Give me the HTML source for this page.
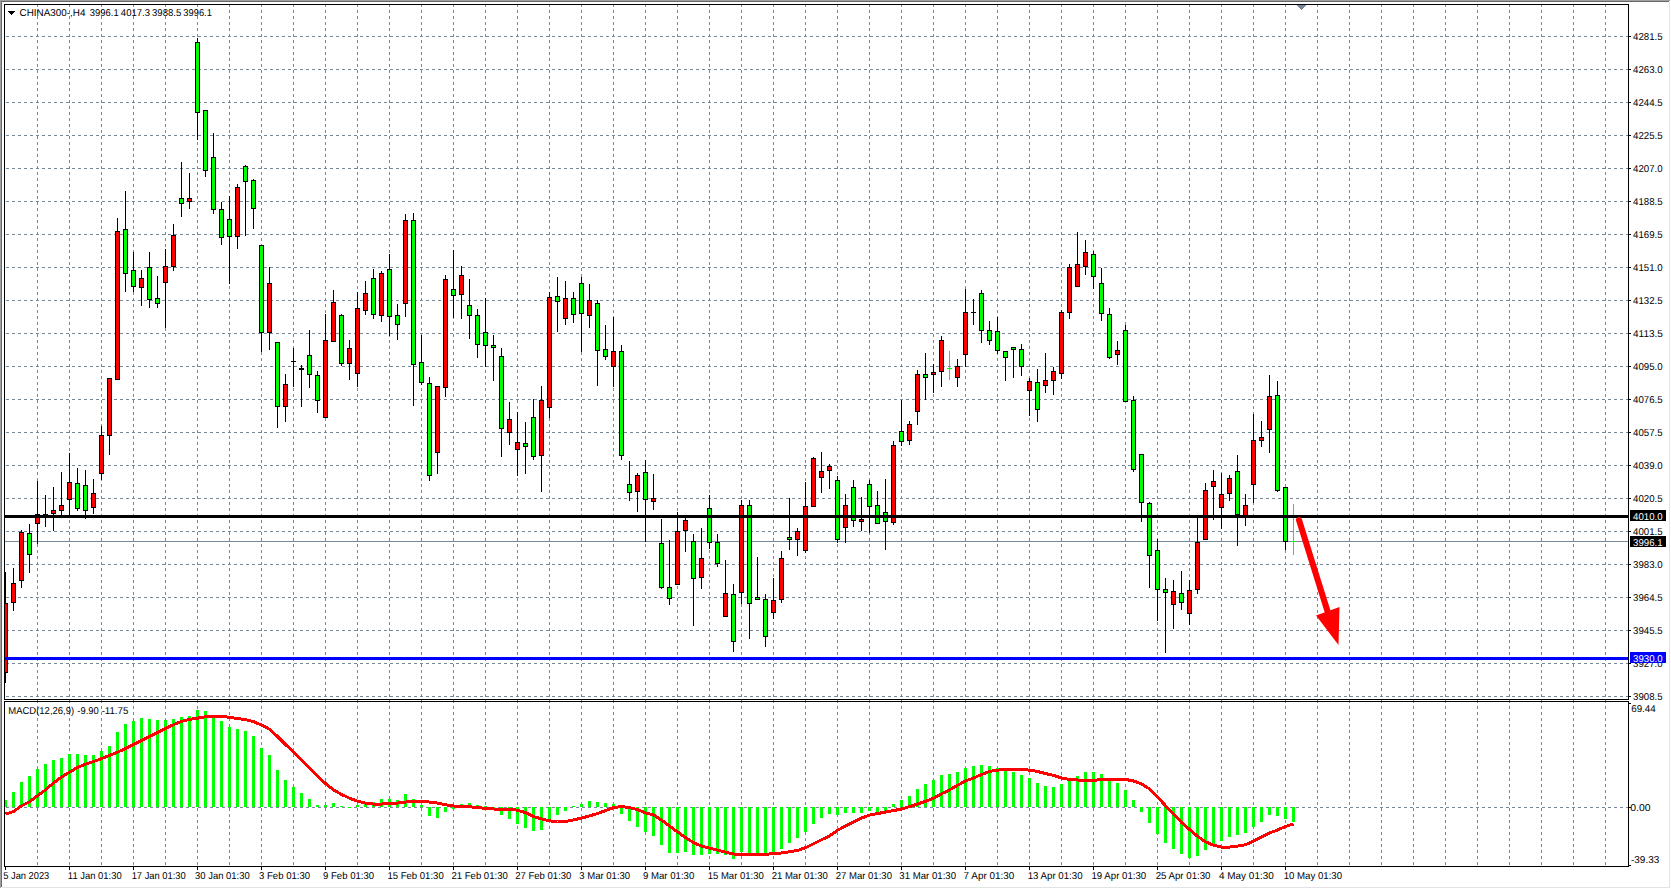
<!DOCTYPE html>
<html><head><meta charset="utf-8"><style>
html,body{margin:0;padding:0;background:#fff;width:1671px;height:889px;overflow:hidden}
svg{display:block}
text{white-space:pre;text-rendering:geometricPrecision}
</style></head><body>
<svg width="1671" height="889" viewBox="0 0 1671 889" shape-rendering="crispEdges">
<rect x="0" y="0" width="1671" height="889" fill="#fff"/>
<rect x="0" y="0" width="1670" height="1" fill="#a0a0a0"/>
<rect x="0" y="0" width="1" height="888" fill="#a0a0a0"/>
<rect x="1" y="1" width="1668" height="1" fill="#696969"/>
<rect x="1" y="1" width="1" height="886" fill="#696969"/>
<rect x="1669" y="2" width="1" height="886" fill="#e3e3e3"/>
<rect x="2" y="887" width="1668" height="1" fill="#e3e3e3"/>
<path d="M37.5 4V866 M69.5 4V866 M101.5 4V866 M133.5 4V866 M165.5 4V866 M197.5 4V866 M229.5 4V866 M261.5 4V866 M293.5 4V866 M325.5 4V866 M357.5 4V866 M389.5 4V866 M421.5 4V866 M453.5 4V866 M485.5 4V866 M517.5 4V866 M549.5 4V866 M581.5 4V866 M613.5 4V866 M645.5 4V866 M677.5 4V866 M709.5 4V866 M741.5 4V866 M773.5 4V866 M805.5 4V866 M837.5 4V866 M869.5 4V866 M901.5 4V866 M933.5 4V866 M965.5 4V866 M997.5 4V866 M1029.5 4V866 M1061.5 4V866 M1093.5 4V866 M1125.5 4V866 M1157.5 4V866 M1189.5 4V866 M1221.5 4V866 M1253.5 4V866 M1285.5 4V866 M1317.5 4V866 M1349.5 4V866 M1381.5 4V866 M1413.5 4V866 M1445.5 4V866 M1477.5 4V866 M1509.5 4V866 M1541.5 4V866 M1573.5 4V866 M1605.5 4V866 M6 36.5H1628 M6 69.5H1628 M6 102.5H1628 M6 135.5H1628 M6 168.5H1628 M6 201.5H1628 M6 234.5H1628 M6 267.5H1628 M6 300.5H1628 M6 333.5H1628 M6 366.5H1628 M6 399.5H1628 M6 432.5H1628 M6 465.5H1628 M6 498.5H1628 M6 531.5H1628 M6 564.5H1628 M6 597.5H1628 M6 630.5H1628 M6 663.5H1628 M6 696.5H1628 M6 807.5H1628" stroke="#778899" stroke-width="1" stroke-dasharray="3 3" fill="none"/>
<rect x="5" y="541" width="1623" height="1" fill="#778899"/>
<rect x="5" y="572" width="1" height="111" fill="#000000"/>
<rect x="3" y="603" width="5" height="70" fill="#000000"/>
<rect x="4" y="604" width="3" height="68" fill="#ff0000"/>
<rect x="13" y="568" width="1" height="43" fill="#000000"/>
<rect x="11" y="583" width="5" height="20" fill="#000000"/>
<rect x="12" y="584" width="3" height="18" fill="#ff0000"/>
<rect x="21" y="530" width="1" height="58" fill="#000000"/>
<rect x="19" y="532" width="5" height="49" fill="#000000"/>
<rect x="20" y="533" width="3" height="47" fill="#ff0000"/>
<rect x="29" y="524" width="1" height="49" fill="#000000"/>
<rect x="27" y="533" width="5" height="22" fill="#000000"/>
<rect x="28" y="534" width="3" height="20" fill="#00ff00"/>
<rect x="37" y="481" width="1" height="63" fill="#000000"/>
<rect x="35" y="514" width="5" height="10" fill="#000000"/>
<rect x="36" y="515" width="3" height="8" fill="#ff0000"/>
<rect x="45" y="495" width="1" height="32" fill="#000000"/>
<rect x="43" y="514" width="5" height="1" fill="#000000"/>
<rect x="53" y="487" width="1" height="44" fill="#000000"/>
<rect x="51" y="510" width="5" height="4" fill="#000000"/>
<rect x="52" y="511" width="3" height="2" fill="#ff0000"/>
<rect x="61" y="472" width="1" height="44" fill="#000000"/>
<rect x="59" y="505" width="5" height="6" fill="#000000"/>
<rect x="60" y="506" width="3" height="4" fill="#ff0000"/>
<rect x="69" y="453" width="1" height="63" fill="#000000"/>
<rect x="67" y="482" width="5" height="18" fill="#000000"/>
<rect x="68" y="483" width="3" height="16" fill="#ff0000"/>
<rect x="77" y="468" width="1" height="43" fill="#000000"/>
<rect x="75" y="483" width="5" height="26" fill="#000000"/>
<rect x="76" y="484" width="3" height="24" fill="#00ff00"/>
<rect x="85" y="470" width="1" height="49" fill="#000000"/>
<rect x="83" y="485" width="5" height="26" fill="#000000"/>
<rect x="84" y="486" width="3" height="24" fill="#00ff00"/>
<rect x="93" y="479" width="1" height="35" fill="#000000"/>
<rect x="91" y="493" width="5" height="15" fill="#000000"/>
<rect x="92" y="494" width="3" height="13" fill="#ff0000"/>
<rect x="101" y="426" width="1" height="54" fill="#000000"/>
<rect x="99" y="435" width="5" height="39" fill="#000000"/>
<rect x="100" y="436" width="3" height="37" fill="#ff0000"/>
<rect x="109" y="378" width="1" height="77" fill="#000000"/>
<rect x="107" y="378" width="5" height="58" fill="#000000"/>
<rect x="108" y="379" width="3" height="56" fill="#ff0000"/>
<rect x="117" y="218" width="1" height="162" fill="#000000"/>
<rect x="115" y="231" width="5" height="149" fill="#000000"/>
<rect x="116" y="232" width="3" height="147" fill="#ff0000"/>
<rect x="125" y="191" width="1" height="101" fill="#000000"/>
<rect x="123" y="229" width="5" height="45" fill="#000000"/>
<rect x="124" y="230" width="3" height="43" fill="#00ff00"/>
<rect x="133" y="252" width="1" height="40" fill="#000000"/>
<rect x="131" y="270" width="5" height="17" fill="#000000"/>
<rect x="132" y="271" width="3" height="15" fill="#00ff00"/>
<rect x="141" y="270" width="1" height="36" fill="#000000"/>
<rect x="139" y="278" width="5" height="10" fill="#000000"/>
<rect x="140" y="279" width="3" height="8" fill="#ff0000"/>
<rect x="149" y="252" width="1" height="56" fill="#000000"/>
<rect x="147" y="267" width="5" height="33" fill="#000000"/>
<rect x="148" y="268" width="3" height="31" fill="#00ff00"/>
<rect x="157" y="276" width="1" height="32" fill="#000000"/>
<rect x="155" y="298" width="5" height="6" fill="#000000"/>
<rect x="156" y="299" width="3" height="4" fill="#00ff00"/>
<rect x="165" y="249" width="1" height="79" fill="#000000"/>
<rect x="163" y="266" width="5" height="17" fill="#000000"/>
<rect x="164" y="267" width="3" height="15" fill="#ff0000"/>
<rect x="173" y="224" width="1" height="47" fill="#000000"/>
<rect x="171" y="235" width="5" height="32" fill="#000000"/>
<rect x="172" y="236" width="3" height="30" fill="#ff0000"/>
<rect x="181" y="162" width="1" height="55" fill="#000000"/>
<rect x="179" y="198" width="5" height="6" fill="#000000"/>
<rect x="180" y="199" width="3" height="4" fill="#00ff00"/>
<rect x="189" y="173" width="1" height="36" fill="#000000"/>
<rect x="187" y="198" width="5" height="4" fill="#000000"/>
<rect x="188" y="199" width="3" height="2" fill="#ff0000"/>
<rect x="197" y="38" width="1" height="102" fill="#000000"/>
<rect x="195" y="42" width="5" height="71" fill="#000000"/>
<rect x="196" y="43" width="3" height="69" fill="#00ff00"/>
<rect x="205" y="110" width="1" height="67" fill="#000000"/>
<rect x="203" y="110" width="5" height="61" fill="#000000"/>
<rect x="204" y="111" width="3" height="59" fill="#00ff00"/>
<rect x="213" y="133" width="1" height="81" fill="#000000"/>
<rect x="211" y="157" width="5" height="53" fill="#000000"/>
<rect x="212" y="158" width="3" height="51" fill="#00ff00"/>
<rect x="221" y="202" width="1" height="43" fill="#000000"/>
<rect x="219" y="209" width="5" height="29" fill="#000000"/>
<rect x="220" y="210" width="3" height="27" fill="#00ff00"/>
<rect x="229" y="196" width="1" height="88" fill="#000000"/>
<rect x="227" y="219" width="5" height="18" fill="#000000"/>
<rect x="228" y="220" width="3" height="16" fill="#00ff00"/>
<rect x="237" y="184" width="1" height="65" fill="#000000"/>
<rect x="235" y="187" width="5" height="50" fill="#000000"/>
<rect x="236" y="188" width="3" height="48" fill="#ff0000"/>
<rect x="245" y="165" width="1" height="71" fill="#000000"/>
<rect x="243" y="166" width="5" height="16" fill="#000000"/>
<rect x="244" y="167" width="3" height="14" fill="#00ff00"/>
<rect x="253" y="179" width="1" height="50" fill="#000000"/>
<rect x="251" y="180" width="5" height="29" fill="#000000"/>
<rect x="252" y="181" width="3" height="27" fill="#00ff00"/>
<rect x="261" y="245" width="1" height="107" fill="#000000"/>
<rect x="259" y="245" width="5" height="88" fill="#000000"/>
<rect x="260" y="246" width="3" height="86" fill="#00ff00"/>
<rect x="269" y="267" width="1" height="83" fill="#000000"/>
<rect x="267" y="283" width="5" height="50" fill="#000000"/>
<rect x="268" y="284" width="3" height="48" fill="#ff0000"/>
<rect x="277" y="342" width="1" height="86" fill="#000000"/>
<rect x="275" y="342" width="5" height="65" fill="#000000"/>
<rect x="276" y="343" width="3" height="63" fill="#00ff00"/>
<rect x="285" y="374" width="1" height="48" fill="#000000"/>
<rect x="283" y="384" width="5" height="23" fill="#000000"/>
<rect x="284" y="385" width="3" height="21" fill="#ff0000"/>
<rect x="293" y="348" width="1" height="39" fill="#000000"/>
<rect x="291" y="361" width="5" height="1" fill="#000000"/>
<rect x="301" y="365" width="1" height="42" fill="#000000"/>
<rect x="299" y="368" width="5" height="2" fill="#000000"/>
<rect x="309" y="330" width="1" height="58" fill="#000000"/>
<rect x="307" y="355" width="5" height="20" fill="#000000"/>
<rect x="308" y="356" width="3" height="18" fill="#00ff00"/>
<rect x="317" y="371" width="1" height="42" fill="#000000"/>
<rect x="315" y="375" width="5" height="26" fill="#000000"/>
<rect x="316" y="376" width="3" height="24" fill="#00ff00"/>
<rect x="325" y="314" width="1" height="104" fill="#000000"/>
<rect x="323" y="340" width="5" height="78" fill="#000000"/>
<rect x="324" y="341" width="3" height="76" fill="#ff0000"/>
<rect x="333" y="290" width="1" height="52" fill="#000000"/>
<rect x="331" y="302" width="5" height="40" fill="#000000"/>
<rect x="332" y="303" width="3" height="38" fill="#ff0000"/>
<rect x="341" y="314" width="1" height="52" fill="#000000"/>
<rect x="339" y="315" width="5" height="49" fill="#000000"/>
<rect x="340" y="316" width="3" height="47" fill="#00ff00"/>
<rect x="349" y="340" width="1" height="40" fill="#000000"/>
<rect x="347" y="348" width="5" height="16" fill="#000000"/>
<rect x="348" y="349" width="3" height="14" fill="#ff0000"/>
<rect x="357" y="292" width="1" height="95" fill="#000000"/>
<rect x="355" y="308" width="5" height="66" fill="#000000"/>
<rect x="356" y="309" width="3" height="64" fill="#ff0000"/>
<rect x="365" y="281" width="1" height="34" fill="#000000"/>
<rect x="363" y="293" width="5" height="18" fill="#000000"/>
<rect x="364" y="294" width="3" height="16" fill="#ff0000"/>
<rect x="373" y="269" width="1" height="50" fill="#000000"/>
<rect x="371" y="278" width="5" height="37" fill="#000000"/>
<rect x="372" y="279" width="3" height="35" fill="#00ff00"/>
<rect x="381" y="271" width="1" height="51" fill="#000000"/>
<rect x="379" y="273" width="5" height="43" fill="#000000"/>
<rect x="380" y="274" width="3" height="41" fill="#ff0000"/>
<rect x="389" y="254" width="1" height="82" fill="#000000"/>
<rect x="387" y="269" width="5" height="48" fill="#000000"/>
<rect x="388" y="270" width="3" height="46" fill="#00ff00"/>
<rect x="397" y="304" width="1" height="36" fill="#000000"/>
<rect x="395" y="315" width="5" height="10" fill="#000000"/>
<rect x="396" y="316" width="3" height="8" fill="#00ff00"/>
<rect x="405" y="214" width="1" height="103" fill="#000000"/>
<rect x="403" y="220" width="5" height="84" fill="#000000"/>
<rect x="404" y="221" width="3" height="82" fill="#ff0000"/>
<rect x="413" y="213" width="1" height="193" fill="#000000"/>
<rect x="411" y="220" width="5" height="145" fill="#000000"/>
<rect x="412" y="221" width="3" height="143" fill="#00ff00"/>
<rect x="421" y="335" width="1" height="50" fill="#000000"/>
<rect x="419" y="362" width="5" height="21" fill="#000000"/>
<rect x="420" y="363" width="3" height="19" fill="#00ff00"/>
<rect x="429" y="377" width="1" height="104" fill="#000000"/>
<rect x="427" y="383" width="5" height="93" fill="#000000"/>
<rect x="428" y="384" width="3" height="91" fill="#00ff00"/>
<rect x="437" y="386" width="1" height="88" fill="#000000"/>
<rect x="435" y="386" width="5" height="67" fill="#000000"/>
<rect x="436" y="387" width="3" height="65" fill="#ff0000"/>
<rect x="445" y="275" width="1" height="122" fill="#000000"/>
<rect x="443" y="279" width="5" height="109" fill="#000000"/>
<rect x="444" y="280" width="3" height="107" fill="#ff0000"/>
<rect x="453" y="250" width="1" height="68" fill="#000000"/>
<rect x="451" y="289" width="5" height="7" fill="#000000"/>
<rect x="452" y="290" width="3" height="5" fill="#00ff00"/>
<rect x="461" y="266" width="1" height="53" fill="#000000"/>
<rect x="459" y="275" width="5" height="20" fill="#000000"/>
<rect x="460" y="276" width="3" height="18" fill="#ff0000"/>
<rect x="469" y="279" width="1" height="60" fill="#000000"/>
<rect x="467" y="305" width="5" height="11" fill="#000000"/>
<rect x="468" y="306" width="3" height="9" fill="#00ff00"/>
<rect x="477" y="309" width="1" height="49" fill="#000000"/>
<rect x="475" y="315" width="5" height="30" fill="#000000"/>
<rect x="476" y="316" width="3" height="28" fill="#00ff00"/>
<rect x="485" y="298" width="1" height="69" fill="#000000"/>
<rect x="483" y="332" width="5" height="14" fill="#000000"/>
<rect x="484" y="333" width="3" height="12" fill="#00ff00"/>
<rect x="493" y="335" width="1" height="46" fill="#000000"/>
<rect x="491" y="345" width="5" height="3" fill="#000000"/>
<rect x="492" y="346" width="3" height="1" fill="#00ff00"/>
<rect x="501" y="348" width="1" height="109" fill="#000000"/>
<rect x="499" y="356" width="5" height="73" fill="#000000"/>
<rect x="500" y="357" width="3" height="71" fill="#00ff00"/>
<rect x="509" y="402" width="1" height="43" fill="#000000"/>
<rect x="507" y="419" width="5" height="14" fill="#000000"/>
<rect x="508" y="420" width="3" height="12" fill="#ff0000"/>
<rect x="517" y="412" width="1" height="64" fill="#000000"/>
<rect x="515" y="442" width="5" height="8" fill="#000000"/>
<rect x="516" y="443" width="3" height="6" fill="#ff0000"/>
<rect x="525" y="422" width="1" height="52" fill="#000000"/>
<rect x="523" y="443" width="5" height="4" fill="#000000"/>
<rect x="524" y="444" width="3" height="2" fill="#00ff00"/>
<rect x="533" y="399" width="1" height="61" fill="#000000"/>
<rect x="531" y="417" width="5" height="40" fill="#000000"/>
<rect x="532" y="418" width="3" height="38" fill="#00ff00"/>
<rect x="541" y="386" width="1" height="106" fill="#000000"/>
<rect x="539" y="400" width="5" height="56" fill="#000000"/>
<rect x="540" y="401" width="3" height="54" fill="#ff0000"/>
<rect x="549" y="292" width="1" height="126" fill="#000000"/>
<rect x="547" y="297" width="5" height="111" fill="#000000"/>
<rect x="548" y="298" width="3" height="109" fill="#ff0000"/>
<rect x="557" y="277" width="1" height="55" fill="#000000"/>
<rect x="555" y="296" width="5" height="6" fill="#000000"/>
<rect x="556" y="297" width="3" height="4" fill="#00ff00"/>
<rect x="565" y="281" width="1" height="44" fill="#000000"/>
<rect x="563" y="298" width="5" height="21" fill="#000000"/>
<rect x="564" y="299" width="3" height="19" fill="#ff0000"/>
<rect x="573" y="292" width="1" height="31" fill="#000000"/>
<rect x="571" y="298" width="5" height="17" fill="#000000"/>
<rect x="572" y="299" width="3" height="15" fill="#00ff00"/>
<rect x="581" y="277" width="1" height="75" fill="#000000"/>
<rect x="579" y="283" width="5" height="31" fill="#000000"/>
<rect x="580" y="284" width="3" height="29" fill="#00ff00"/>
<rect x="589" y="284" width="1" height="44" fill="#000000"/>
<rect x="587" y="300" width="5" height="16" fill="#000000"/>
<rect x="588" y="301" width="3" height="14" fill="#ff0000"/>
<rect x="597" y="300" width="1" height="86" fill="#000000"/>
<rect x="595" y="303" width="5" height="48" fill="#000000"/>
<rect x="596" y="304" width="3" height="46" fill="#00ff00"/>
<rect x="605" y="325" width="1" height="35" fill="#000000"/>
<rect x="603" y="349" width="5" height="8" fill="#000000"/>
<rect x="604" y="350" width="3" height="6" fill="#00ff00"/>
<rect x="613" y="317" width="1" height="70" fill="#000000"/>
<rect x="611" y="351" width="5" height="16" fill="#000000"/>
<rect x="612" y="352" width="3" height="14" fill="#ff0000"/>
<rect x="621" y="345" width="1" height="115" fill="#000000"/>
<rect x="619" y="351" width="5" height="105" fill="#000000"/>
<rect x="620" y="352" width="3" height="103" fill="#00ff00"/>
<rect x="629" y="461" width="1" height="40" fill="#000000"/>
<rect x="627" y="484" width="5" height="9" fill="#000000"/>
<rect x="628" y="485" width="3" height="7" fill="#00ff00"/>
<rect x="637" y="473" width="1" height="39" fill="#000000"/>
<rect x="635" y="475" width="5" height="17" fill="#000000"/>
<rect x="636" y="476" width="3" height="15" fill="#ff0000"/>
<rect x="645" y="460" width="1" height="82" fill="#000000"/>
<rect x="643" y="472" width="5" height="28" fill="#000000"/>
<rect x="644" y="473" width="3" height="26" fill="#00ff00"/>
<rect x="653" y="474" width="1" height="36" fill="#000000"/>
<rect x="651" y="498" width="5" height="4" fill="#000000"/>
<rect x="652" y="499" width="3" height="2" fill="#ff0000"/>
<rect x="661" y="519" width="1" height="70" fill="#000000"/>
<rect x="659" y="543" width="5" height="45" fill="#000000"/>
<rect x="660" y="544" width="3" height="43" fill="#00ff00"/>
<rect x="669" y="540" width="1" height="65" fill="#000000"/>
<rect x="667" y="587" width="5" height="12" fill="#000000"/>
<rect x="668" y="588" width="3" height="10" fill="#00ff00"/>
<rect x="677" y="512" width="1" height="73" fill="#000000"/>
<rect x="675" y="531" width="5" height="54" fill="#000000"/>
<rect x="676" y="532" width="3" height="52" fill="#ff0000"/>
<rect x="685" y="517" width="1" height="35" fill="#000000"/>
<rect x="683" y="520" width="5" height="11" fill="#000000"/>
<rect x="684" y="521" width="3" height="9" fill="#ff0000"/>
<rect x="693" y="534" width="1" height="92" fill="#000000"/>
<rect x="691" y="541" width="5" height="38" fill="#000000"/>
<rect x="692" y="542" width="3" height="36" fill="#00ff00"/>
<rect x="701" y="528" width="1" height="61" fill="#000000"/>
<rect x="699" y="558" width="5" height="20" fill="#000000"/>
<rect x="700" y="559" width="3" height="18" fill="#ff0000"/>
<rect x="709" y="495" width="1" height="54" fill="#000000"/>
<rect x="707" y="508" width="5" height="35" fill="#000000"/>
<rect x="708" y="509" width="3" height="33" fill="#00ff00"/>
<rect x="717" y="534" width="1" height="33" fill="#000000"/>
<rect x="715" y="542" width="5" height="22" fill="#000000"/>
<rect x="716" y="543" width="3" height="20" fill="#00ff00"/>
<rect x="725" y="560" width="1" height="57" fill="#000000"/>
<rect x="723" y="593" width="5" height="24" fill="#000000"/>
<rect x="724" y="594" width="3" height="22" fill="#ff0000"/>
<rect x="733" y="584" width="1" height="68" fill="#000000"/>
<rect x="731" y="594" width="5" height="48" fill="#000000"/>
<rect x="732" y="595" width="3" height="46" fill="#00ff00"/>
<rect x="741" y="500" width="1" height="104" fill="#000000"/>
<rect x="739" y="505" width="5" height="88" fill="#000000"/>
<rect x="740" y="506" width="3" height="86" fill="#ff0000"/>
<rect x="749" y="500" width="1" height="139" fill="#000000"/>
<rect x="747" y="505" width="5" height="99" fill="#000000"/>
<rect x="748" y="506" width="3" height="97" fill="#00ff00"/>
<rect x="757" y="557" width="1" height="43" fill="#000000"/>
<rect x="755" y="597" width="5" height="3" fill="#000000"/>
<rect x="756" y="598" width="3" height="1" fill="#00ff00"/>
<rect x="765" y="594" width="1" height="53" fill="#000000"/>
<rect x="763" y="599" width="5" height="38" fill="#000000"/>
<rect x="764" y="600" width="3" height="36" fill="#00ff00"/>
<rect x="773" y="578" width="1" height="41" fill="#000000"/>
<rect x="771" y="600" width="5" height="13" fill="#000000"/>
<rect x="772" y="601" width="3" height="11" fill="#ff0000"/>
<rect x="781" y="551" width="1" height="52" fill="#000000"/>
<rect x="779" y="558" width="5" height="42" fill="#000000"/>
<rect x="780" y="559" width="3" height="40" fill="#ff0000"/>
<rect x="789" y="498" width="1" height="52" fill="#000000"/>
<rect x="787" y="537" width="5" height="3" fill="#000000"/>
<rect x="788" y="538" width="3" height="1" fill="#00ff00"/>
<rect x="797" y="528" width="1" height="28" fill="#000000"/>
<rect x="795" y="531" width="5" height="9" fill="#000000"/>
<rect x="796" y="532" width="3" height="7" fill="#ff0000"/>
<rect x="805" y="482" width="1" height="71" fill="#000000"/>
<rect x="803" y="506" width="5" height="45" fill="#000000"/>
<rect x="804" y="507" width="3" height="43" fill="#ff0000"/>
<rect x="813" y="457" width="1" height="50" fill="#000000"/>
<rect x="811" y="458" width="5" height="49" fill="#000000"/>
<rect x="812" y="459" width="3" height="47" fill="#ff0000"/>
<rect x="821" y="452" width="1" height="41" fill="#000000"/>
<rect x="819" y="471" width="5" height="7" fill="#000000"/>
<rect x="820" y="472" width="3" height="5" fill="#ff0000"/>
<rect x="829" y="464" width="1" height="25" fill="#000000"/>
<rect x="827" y="466" width="5" height="5" fill="#000000"/>
<rect x="828" y="467" width="3" height="3" fill="#ff0000"/>
<rect x="837" y="476" width="1" height="67" fill="#000000"/>
<rect x="835" y="480" width="5" height="60" fill="#000000"/>
<rect x="836" y="481" width="3" height="58" fill="#00ff00"/>
<rect x="845" y="494" width="1" height="49" fill="#000000"/>
<rect x="843" y="505" width="5" height="23" fill="#000000"/>
<rect x="844" y="506" width="3" height="21" fill="#ff0000"/>
<rect x="853" y="480" width="1" height="47" fill="#000000"/>
<rect x="851" y="487" width="5" height="34" fill="#000000"/>
<rect x="852" y="488" width="3" height="32" fill="#00ff00"/>
<rect x="861" y="497" width="1" height="34" fill="#000000"/>
<rect x="859" y="519" width="5" height="3" fill="#000000"/>
<rect x="860" y="520" width="3" height="1" fill="#ff0000"/>
<rect x="869" y="480" width="1" height="53" fill="#000000"/>
<rect x="867" y="484" width="5" height="23" fill="#000000"/>
<rect x="868" y="485" width="3" height="21" fill="#00ff00"/>
<rect x="877" y="491" width="1" height="33" fill="#000000"/>
<rect x="875" y="505" width="5" height="19" fill="#000000"/>
<rect x="876" y="506" width="3" height="17" fill="#00ff00"/>
<rect x="885" y="479" width="1" height="71" fill="#000000"/>
<rect x="883" y="512" width="5" height="10" fill="#000000"/>
<rect x="884" y="513" width="3" height="8" fill="#00ff00"/>
<rect x="893" y="441" width="1" height="84" fill="#000000"/>
<rect x="891" y="445" width="5" height="78" fill="#000000"/>
<rect x="892" y="446" width="3" height="76" fill="#ff0000"/>
<rect x="901" y="400" width="1" height="46" fill="#000000"/>
<rect x="899" y="431" width="5" height="11" fill="#000000"/>
<rect x="900" y="432" width="3" height="9" fill="#00ff00"/>
<rect x="909" y="421" width="1" height="24" fill="#000000"/>
<rect x="907" y="424" width="5" height="17" fill="#000000"/>
<rect x="908" y="425" width="3" height="15" fill="#ff0000"/>
<rect x="917" y="370" width="1" height="55" fill="#000000"/>
<rect x="915" y="374" width="5" height="38" fill="#000000"/>
<rect x="916" y="375" width="3" height="36" fill="#ff0000"/>
<rect x="925" y="353" width="1" height="47" fill="#000000"/>
<rect x="923" y="374" width="5" height="4" fill="#000000"/>
<rect x="924" y="375" width="3" height="2" fill="#00ff00"/>
<rect x="933" y="364" width="1" height="29" fill="#000000"/>
<rect x="931" y="372" width="5" height="3" fill="#000000"/>
<rect x="932" y="373" width="3" height="1" fill="#ff0000"/>
<rect x="941" y="336" width="1" height="51" fill="#000000"/>
<rect x="939" y="340" width="5" height="32" fill="#000000"/>
<rect x="940" y="341" width="3" height="30" fill="#ff0000"/>
<rect x="949" y="351" width="1" height="29" fill="#00ff00"/>
<rect x="947" y="368" width="5" height="1" fill="#00ff00"/>
<rect x="957" y="359" width="1" height="28" fill="#000000"/>
<rect x="955" y="366" width="5" height="12" fill="#000000"/>
<rect x="956" y="367" width="3" height="10" fill="#ff0000"/>
<rect x="965" y="289" width="1" height="78" fill="#000000"/>
<rect x="963" y="312" width="5" height="43" fill="#000000"/>
<rect x="964" y="313" width="3" height="41" fill="#ff0000"/>
<rect x="973" y="299" width="1" height="26" fill="#000000"/>
<rect x="971" y="312" width="5" height="1" fill="#000000"/>
<rect x="981" y="290" width="1" height="53" fill="#000000"/>
<rect x="979" y="293" width="5" height="38" fill="#000000"/>
<rect x="980" y="294" width="3" height="36" fill="#00ff00"/>
<rect x="989" y="321" width="1" height="24" fill="#000000"/>
<rect x="987" y="330" width="5" height="11" fill="#000000"/>
<rect x="988" y="331" width="3" height="9" fill="#00ff00"/>
<rect x="997" y="317" width="1" height="37" fill="#000000"/>
<rect x="995" y="331" width="5" height="20" fill="#000000"/>
<rect x="996" y="332" width="3" height="18" fill="#00ff00"/>
<rect x="1005" y="351" width="1" height="30" fill="#000000"/>
<rect x="1003" y="351" width="5" height="7" fill="#000000"/>
<rect x="1004" y="352" width="3" height="5" fill="#00ff00"/>
<rect x="1013" y="347" width="1" height="31" fill="#000000"/>
<rect x="1011" y="347" width="5" height="3" fill="#000000"/>
<rect x="1012" y="348" width="3" height="1" fill="#00ff00"/>
<rect x="1021" y="344" width="1" height="32" fill="#000000"/>
<rect x="1019" y="349" width="5" height="18" fill="#000000"/>
<rect x="1020" y="350" width="3" height="16" fill="#00ff00"/>
<rect x="1029" y="378" width="1" height="38" fill="#000000"/>
<rect x="1027" y="381" width="5" height="10" fill="#000000"/>
<rect x="1028" y="382" width="3" height="8" fill="#ff0000"/>
<rect x="1037" y="369" width="1" height="53" fill="#000000"/>
<rect x="1035" y="382" width="5" height="28" fill="#000000"/>
<rect x="1036" y="383" width="3" height="26" fill="#00ff00"/>
<rect x="1045" y="353" width="1" height="40" fill="#000000"/>
<rect x="1043" y="380" width="5" height="6" fill="#000000"/>
<rect x="1044" y="381" width="3" height="4" fill="#ff0000"/>
<rect x="1053" y="367" width="1" height="28" fill="#000000"/>
<rect x="1051" y="371" width="5" height="10" fill="#000000"/>
<rect x="1052" y="372" width="3" height="8" fill="#ff0000"/>
<rect x="1061" y="310" width="1" height="69" fill="#000000"/>
<rect x="1059" y="312" width="5" height="62" fill="#000000"/>
<rect x="1060" y="313" width="3" height="60" fill="#ff0000"/>
<rect x="1069" y="264" width="1" height="55" fill="#000000"/>
<rect x="1067" y="267" width="5" height="46" fill="#000000"/>
<rect x="1068" y="268" width="3" height="44" fill="#ff0000"/>
<rect x="1077" y="232" width="1" height="55" fill="#000000"/>
<rect x="1075" y="264" width="5" height="23" fill="#000000"/>
<rect x="1076" y="265" width="3" height="21" fill="#ff0000"/>
<rect x="1085" y="240" width="1" height="35" fill="#000000"/>
<rect x="1083" y="252" width="5" height="15" fill="#000000"/>
<rect x="1084" y="253" width="3" height="13" fill="#ff0000"/>
<rect x="1093" y="251" width="1" height="38" fill="#000000"/>
<rect x="1091" y="254" width="5" height="23" fill="#000000"/>
<rect x="1092" y="255" width="3" height="21" fill="#00ff00"/>
<rect x="1101" y="268" width="1" height="53" fill="#000000"/>
<rect x="1099" y="283" width="5" height="31" fill="#000000"/>
<rect x="1100" y="284" width="3" height="29" fill="#00ff00"/>
<rect x="1109" y="308" width="1" height="51" fill="#000000"/>
<rect x="1107" y="314" width="5" height="44" fill="#000000"/>
<rect x="1108" y="315" width="3" height="42" fill="#00ff00"/>
<rect x="1117" y="341" width="1" height="24" fill="#000000"/>
<rect x="1115" y="350" width="5" height="5" fill="#000000"/>
<rect x="1116" y="351" width="3" height="3" fill="#ff0000"/>
<rect x="1125" y="325" width="1" height="77" fill="#000000"/>
<rect x="1123" y="330" width="5" height="72" fill="#000000"/>
<rect x="1124" y="331" width="3" height="70" fill="#00ff00"/>
<rect x="1133" y="396" width="1" height="76" fill="#000000"/>
<rect x="1131" y="400" width="5" height="70" fill="#000000"/>
<rect x="1132" y="401" width="3" height="68" fill="#00ff00"/>
<rect x="1141" y="454" width="1" height="68" fill="#000000"/>
<rect x="1139" y="454" width="5" height="49" fill="#000000"/>
<rect x="1140" y="455" width="3" height="47" fill="#00ff00"/>
<rect x="1149" y="502" width="1" height="86" fill="#000000"/>
<rect x="1147" y="503" width="5" height="53" fill="#000000"/>
<rect x="1148" y="504" width="3" height="51" fill="#00ff00"/>
<rect x="1157" y="539" width="1" height="82" fill="#000000"/>
<rect x="1155" y="550" width="5" height="40" fill="#000000"/>
<rect x="1156" y="551" width="3" height="38" fill="#00ff00"/>
<rect x="1165" y="578" width="1" height="75" fill="#000000"/>
<rect x="1163" y="589" width="5" height="4" fill="#000000"/>
<rect x="1164" y="590" width="3" height="2" fill="#00ff00"/>
<rect x="1173" y="580" width="1" height="49" fill="#000000"/>
<rect x="1171" y="591" width="5" height="14" fill="#000000"/>
<rect x="1172" y="592" width="3" height="12" fill="#ff0000"/>
<rect x="1181" y="571" width="1" height="39" fill="#000000"/>
<rect x="1179" y="593" width="5" height="10" fill="#000000"/>
<rect x="1180" y="594" width="3" height="8" fill="#00ff00"/>
<rect x="1189" y="580" width="1" height="45" fill="#000000"/>
<rect x="1187" y="590" width="5" height="24" fill="#000000"/>
<rect x="1188" y="591" width="3" height="22" fill="#ff0000"/>
<rect x="1197" y="517" width="1" height="77" fill="#000000"/>
<rect x="1195" y="542" width="5" height="48" fill="#000000"/>
<rect x="1196" y="543" width="3" height="46" fill="#ff0000"/>
<rect x="1205" y="483" width="1" height="57" fill="#000000"/>
<rect x="1203" y="490" width="5" height="50" fill="#000000"/>
<rect x="1204" y="491" width="3" height="48" fill="#ff0000"/>
<rect x="1213" y="470" width="1" height="50" fill="#000000"/>
<rect x="1211" y="481" width="5" height="6" fill="#000000"/>
<rect x="1212" y="482" width="3" height="4" fill="#ff0000"/>
<rect x="1221" y="473" width="1" height="56" fill="#000000"/>
<rect x="1219" y="494" width="5" height="14" fill="#000000"/>
<rect x="1220" y="495" width="3" height="12" fill="#ff0000"/>
<rect x="1229" y="475" width="1" height="26" fill="#000000"/>
<rect x="1227" y="478" width="5" height="16" fill="#000000"/>
<rect x="1228" y="479" width="3" height="14" fill="#ff0000"/>
<rect x="1237" y="455" width="1" height="91" fill="#000000"/>
<rect x="1235" y="471" width="5" height="44" fill="#000000"/>
<rect x="1236" y="472" width="3" height="42" fill="#00ff00"/>
<rect x="1245" y="494" width="1" height="32" fill="#000000"/>
<rect x="1243" y="505" width="5" height="11" fill="#000000"/>
<rect x="1244" y="506" width="3" height="9" fill="#ff0000"/>
<rect x="1253" y="414" width="1" height="89" fill="#000000"/>
<rect x="1251" y="440" width="5" height="45" fill="#000000"/>
<rect x="1252" y="441" width="3" height="43" fill="#ff0000"/>
<rect x="1261" y="421" width="1" height="26" fill="#000000"/>
<rect x="1259" y="437" width="5" height="4" fill="#000000"/>
<rect x="1260" y="438" width="3" height="2" fill="#ff0000"/>
<rect x="1269" y="375" width="1" height="78" fill="#000000"/>
<rect x="1267" y="396" width="5" height="34" fill="#000000"/>
<rect x="1268" y="397" width="3" height="32" fill="#ff0000"/>
<rect x="1277" y="381" width="1" height="111" fill="#000000"/>
<rect x="1275" y="395" width="5" height="96" fill="#000000"/>
<rect x="1276" y="396" width="3" height="94" fill="#00ff00"/>
<rect x="1285" y="487" width="1" height="63" fill="#000000"/>
<rect x="1283" y="487" width="5" height="55" fill="#000000"/>
<rect x="1284" y="488" width="3" height="53" fill="#00ff00"/>
<rect x="1293" y="504" width="1" height="51" fill="#00ff00"/>
<rect x="1291" y="541" width="5" height="1" fill="#00ff00"/>
<rect x="4" y="800" width="3" height="7" fill="#00ff00"/>
<rect x="12" y="792" width="3" height="15" fill="#00ff00"/>
<rect x="20" y="782" width="3" height="25" fill="#00ff00"/>
<rect x="28" y="776" width="3" height="31" fill="#00ff00"/>
<rect x="36" y="769" width="3" height="38" fill="#00ff00"/>
<rect x="44" y="764" width="3" height="43" fill="#00ff00"/>
<rect x="52" y="760" width="3" height="47" fill="#00ff00"/>
<rect x="60" y="758" width="3" height="49" fill="#00ff00"/>
<rect x="68" y="754" width="3" height="53" fill="#00ff00"/>
<rect x="76" y="754" width="3" height="53" fill="#00ff00"/>
<rect x="84" y="755" width="3" height="52" fill="#00ff00"/>
<rect x="92" y="755" width="3" height="52" fill="#00ff00"/>
<rect x="100" y="751" width="3" height="56" fill="#00ff00"/>
<rect x="108" y="746" width="3" height="61" fill="#00ff00"/>
<rect x="116" y="732" width="3" height="75" fill="#00ff00"/>
<rect x="124" y="724" width="3" height="83" fill="#00ff00"/>
<rect x="132" y="721" width="3" height="86" fill="#00ff00"/>
<rect x="140" y="718" width="3" height="89" fill="#00ff00"/>
<rect x="148" y="719" width="3" height="88" fill="#00ff00"/>
<rect x="156" y="720" width="3" height="87" fill="#00ff00"/>
<rect x="164" y="720" width="3" height="87" fill="#00ff00"/>
<rect x="172" y="719" width="3" height="88" fill="#00ff00"/>
<rect x="180" y="717" width="3" height="90" fill="#00ff00"/>
<rect x="188" y="716" width="3" height="91" fill="#00ff00"/>
<rect x="196" y="710" width="3" height="97" fill="#00ff00"/>
<rect x="204" y="711" width="3" height="96" fill="#00ff00"/>
<rect x="212" y="717" width="3" height="90" fill="#00ff00"/>
<rect x="220" y="721" width="3" height="86" fill="#00ff00"/>
<rect x="228" y="727" width="3" height="80" fill="#00ff00"/>
<rect x="236" y="729" width="3" height="78" fill="#00ff00"/>
<rect x="244" y="731" width="3" height="76" fill="#00ff00"/>
<rect x="252" y="736" width="3" height="71" fill="#00ff00"/>
<rect x="260" y="748" width="3" height="59" fill="#00ff00"/>
<rect x="268" y="755" width="3" height="52" fill="#00ff00"/>
<rect x="276" y="770" width="3" height="37" fill="#00ff00"/>
<rect x="284" y="780" width="3" height="27" fill="#00ff00"/>
<rect x="292" y="787" width="3" height="20" fill="#00ff00"/>
<rect x="300" y="793" width="3" height="14" fill="#00ff00"/>
<rect x="308" y="799" width="3" height="8" fill="#00ff00"/>
<rect x="316" y="805" width="3" height="2" fill="#00ff00"/>
<rect x="324" y="805" width="3" height="2" fill="#00ff00"/>
<rect x="332" y="803" width="3" height="4" fill="#00ff00"/>
<rect x="340" y="806" width="3" height="1" fill="#00ff00"/>
<rect x="348" y="807" width="3" height="1" fill="#00ff00"/>
<rect x="356" y="805" width="3" height="2" fill="#00ff00"/>
<rect x="364" y="804" width="3" height="3" fill="#00ff00"/>
<rect x="372" y="802" width="3" height="5" fill="#00ff00"/>
<rect x="380" y="799" width="3" height="8" fill="#00ff00"/>
<rect x="388" y="799" width="3" height="8" fill="#00ff00"/>
<rect x="396" y="800" width="3" height="7" fill="#00ff00"/>
<rect x="404" y="794" width="3" height="13" fill="#00ff00"/>
<rect x="412" y="799" width="3" height="8" fill="#00ff00"/>
<rect x="420" y="805" width="3" height="2" fill="#00ff00"/>
<rect x="428" y="807" width="3" height="9" fill="#00ff00"/>
<rect x="436" y="807" width="3" height="11" fill="#00ff00"/>
<rect x="444" y="807" width="3" height="5" fill="#00ff00"/>
<rect x="452" y="807" width="3" height="2" fill="#00ff00"/>
<rect x="460" y="804" width="3" height="3" fill="#00ff00"/>
<rect x="468" y="803" width="3" height="4" fill="#00ff00"/>
<rect x="476" y="805" width="3" height="2" fill="#00ff00"/>
<rect x="484" y="806" width="3" height="1" fill="#00ff00"/>
<rect x="492" y="807" width="3" height="2" fill="#00ff00"/>
<rect x="500" y="807" width="3" height="8" fill="#00ff00"/>
<rect x="508" y="807" width="3" height="12" fill="#00ff00"/>
<rect x="516" y="807" width="3" height="17" fill="#00ff00"/>
<rect x="524" y="807" width="3" height="21" fill="#00ff00"/>
<rect x="532" y="807" width="3" height="24" fill="#00ff00"/>
<rect x="540" y="807" width="3" height="23" fill="#00ff00"/>
<rect x="548" y="807" width="3" height="12" fill="#00ff00"/>
<rect x="556" y="807" width="3" height="8" fill="#00ff00"/>
<rect x="564" y="807" width="3" height="4" fill="#00ff00"/>
<rect x="572" y="806" width="3" height="1" fill="#00ff00"/>
<rect x="580" y="804" width="3" height="3" fill="#00ff00"/>
<rect x="588" y="801" width="3" height="6" fill="#00ff00"/>
<rect x="596" y="802" width="3" height="5" fill="#00ff00"/>
<rect x="604" y="803" width="3" height="4" fill="#00ff00"/>
<rect x="612" y="804" width="3" height="3" fill="#00ff00"/>
<rect x="620" y="807" width="3" height="7" fill="#00ff00"/>
<rect x="628" y="807" width="3" height="14" fill="#00ff00"/>
<rect x="636" y="807" width="3" height="20" fill="#00ff00"/>
<rect x="644" y="807" width="3" height="25" fill="#00ff00"/>
<rect x="652" y="807" width="3" height="29" fill="#00ff00"/>
<rect x="660" y="807" width="3" height="38" fill="#00ff00"/>
<rect x="668" y="807" width="3" height="46" fill="#00ff00"/>
<rect x="676" y="807" width="3" height="46" fill="#00ff00"/>
<rect x="684" y="807" width="3" height="45" fill="#00ff00"/>
<rect x="692" y="807" width="3" height="48" fill="#00ff00"/>
<rect x="700" y="807" width="3" height="48" fill="#00ff00"/>
<rect x="708" y="807" width="3" height="47" fill="#00ff00"/>
<rect x="716" y="807" width="3" height="47" fill="#00ff00"/>
<rect x="724" y="807" width="3" height="48" fill="#00ff00"/>
<rect x="732" y="807" width="3" height="52" fill="#00ff00"/>
<rect x="740" y="807" width="3" height="45" fill="#00ff00"/>
<rect x="748" y="807" width="3" height="47" fill="#00ff00"/>
<rect x="756" y="807" width="3" height="47" fill="#00ff00"/>
<rect x="764" y="807" width="3" height="47" fill="#00ff00"/>
<rect x="772" y="807" width="3" height="45" fill="#00ff00"/>
<rect x="780" y="807" width="3" height="42" fill="#00ff00"/>
<rect x="788" y="807" width="3" height="36" fill="#00ff00"/>
<rect x="796" y="807" width="3" height="31" fill="#00ff00"/>
<rect x="804" y="807" width="3" height="25" fill="#00ff00"/>
<rect x="812" y="807" width="3" height="17" fill="#00ff00"/>
<rect x="820" y="807" width="3" height="11" fill="#00ff00"/>
<rect x="828" y="807" width="3" height="7" fill="#00ff00"/>
<rect x="836" y="807" width="3" height="8" fill="#00ff00"/>
<rect x="844" y="807" width="3" height="6" fill="#00ff00"/>
<rect x="852" y="807" width="3" height="6" fill="#00ff00"/>
<rect x="860" y="807" width="3" height="6" fill="#00ff00"/>
<rect x="868" y="807" width="3" height="4" fill="#00ff00"/>
<rect x="876" y="807" width="3" height="5" fill="#00ff00"/>
<rect x="884" y="807" width="3" height="4" fill="#00ff00"/>
<rect x="892" y="804" width="3" height="3" fill="#00ff00"/>
<rect x="900" y="800" width="3" height="7" fill="#00ff00"/>
<rect x="908" y="796" width="3" height="11" fill="#00ff00"/>
<rect x="916" y="789" width="3" height="18" fill="#00ff00"/>
<rect x="924" y="784" width="3" height="23" fill="#00ff00"/>
<rect x="932" y="780" width="3" height="27" fill="#00ff00"/>
<rect x="940" y="775" width="3" height="32" fill="#00ff00"/>
<rect x="948" y="774" width="3" height="33" fill="#00ff00"/>
<rect x="956" y="772" width="3" height="35" fill="#00ff00"/>
<rect x="964" y="768" width="3" height="39" fill="#00ff00"/>
<rect x="972" y="766" width="3" height="41" fill="#00ff00"/>
<rect x="980" y="765" width="3" height="42" fill="#00ff00"/>
<rect x="988" y="766" width="3" height="41" fill="#00ff00"/>
<rect x="996" y="768" width="3" height="39" fill="#00ff00"/>
<rect x="1004" y="770" width="3" height="37" fill="#00ff00"/>
<rect x="1012" y="772" width="3" height="35" fill="#00ff00"/>
<rect x="1020" y="775" width="3" height="32" fill="#00ff00"/>
<rect x="1028" y="778" width="3" height="29" fill="#00ff00"/>
<rect x="1036" y="783" width="3" height="24" fill="#00ff00"/>
<rect x="1044" y="786" width="3" height="21" fill="#00ff00"/>
<rect x="1052" y="787" width="3" height="20" fill="#00ff00"/>
<rect x="1060" y="784" width="3" height="23" fill="#00ff00"/>
<rect x="1068" y="780" width="3" height="27" fill="#00ff00"/>
<rect x="1076" y="776" width="3" height="31" fill="#00ff00"/>
<rect x="1084" y="772" width="3" height="35" fill="#00ff00"/>
<rect x="1092" y="772" width="3" height="35" fill="#00ff00"/>
<rect x="1100" y="774" width="3" height="33" fill="#00ff00"/>
<rect x="1108" y="779" width="3" height="28" fill="#00ff00"/>
<rect x="1116" y="783" width="3" height="24" fill="#00ff00"/>
<rect x="1124" y="790" width="3" height="17" fill="#00ff00"/>
<rect x="1132" y="800" width="3" height="7" fill="#00ff00"/>
<rect x="1140" y="807" width="3" height="5" fill="#00ff00"/>
<rect x="1148" y="807" width="3" height="16" fill="#00ff00"/>
<rect x="1156" y="807" width="3" height="27" fill="#00ff00"/>
<rect x="1164" y="807" width="3" height="36" fill="#00ff00"/>
<rect x="1172" y="807" width="3" height="42" fill="#00ff00"/>
<rect x="1180" y="807" width="3" height="47" fill="#00ff00"/>
<rect x="1188" y="807" width="3" height="51" fill="#00ff00"/>
<rect x="1196" y="807" width="3" height="49" fill="#00ff00"/>
<rect x="1204" y="807" width="3" height="43" fill="#00ff00"/>
<rect x="1212" y="807" width="3" height="38" fill="#00ff00"/>
<rect x="1220" y="807" width="3" height="34" fill="#00ff00"/>
<rect x="1228" y="807" width="3" height="30" fill="#00ff00"/>
<rect x="1236" y="807" width="3" height="28" fill="#00ff00"/>
<rect x="1244" y="807" width="3" height="26" fill="#00ff00"/>
<rect x="1252" y="807" width="3" height="20" fill="#00ff00"/>
<rect x="1260" y="807" width="3" height="15" fill="#00ff00"/>
<rect x="1268" y="807" width="3" height="8" fill="#00ff00"/>
<rect x="1276" y="807" width="3" height="9" fill="#00ff00"/>
<rect x="1284" y="807" width="3" height="12" fill="#00ff00"/>
<rect x="1292" y="807" width="3" height="15" fill="#00ff00"/>
<polyline points="5.5,814 13.5,811.6 21.5,805.7 29.5,801.7 37.5,795.8 45.5,789.9 53.5,782.9 61.5,777 69.5,772.1 77.5,767.5 85.5,764.2 93.5,761.6 101.5,758.7 109.5,755.3 117.5,752.3 125.5,748.4 133.5,744.4 141.5,740.5 149.5,736.5 157.5,732.6 165.5,728.6 173.5,724.7 181.5,721.3 189.5,719.4 197.5,718.2 205.5,716.8 213.5,716.2 221.5,716.2 229.5,717.4 237.5,718.4 245.5,719.7 253.5,721.7 261.5,725.1 269.5,729.2 277.5,736.5 285.5,744.4 293.5,752.3 301.5,760.2 309.5,768.1 317.5,776 325.5,783.5 333.5,789.9 341.5,794.4 349.5,798.2 357.5,801.1 365.5,803.1 373.5,804.1 381.5,804.1 389.5,803.1 397.5,803.1 405.5,802.1 413.5,801.3 421.5,801.3 429.5,802.1 437.5,803.1 445.5,804.7 453.5,806 461.5,806.2 469.5,806.6 477.5,807.8 485.5,808.2 493.5,809 501.5,809.2 509.5,809.2 517.5,810.2 525.5,812.6 533.5,816.5 541.5,818.9 549.5,820.9 557.5,821.5 565.5,821.5 573.5,819.9 581.5,818.1 589.5,815.9 597.5,813.6 605.5,810.6 613.5,807.6 621.5,806.6 629.5,807.6 637.5,809.6 645.5,812.8 653.5,814.9 661.5,820.1 669.5,826 677.5,831.9 685.5,837.6 693.5,842.6 701.5,846.1 709.5,848.1 717.5,850.1 725.5,852.1 733.5,854 741.5,854.4 749.5,854.4 757.5,854.4 765.5,854.4 773.5,853.6 781.5,853 789.5,851.7 797.5,850.5 805.5,847.7 813.5,843.8 821.5,839.8 829.5,835.9 837.5,830.3 845.5,826 853.5,822 861.5,818.1 869.5,815.1 877.5,813.6 885.5,812 893.5,810.6 901.5,809 909.5,806.6 917.5,804.1 925.5,801.3 933.5,798.3 941.5,793.8 949.5,789.9 957.5,785.3 965.5,781 973.5,778 981.5,774.6 989.5,771.5 997.5,770.1 1005.5,769.5 1013.5,769.5 1021.5,769.5 1029.5,770.1 1037.5,771.5 1045.5,773.5 1053.5,775.4 1061.5,778 1069.5,779.4 1077.5,780 1085.5,780 1093.5,780.4 1101.5,779.4 1109.5,779.4 1117.5,779.4 1125.5,779.4 1133.5,781 1141.5,783.9 1149.5,788.9 1157.5,796.8 1165.5,805.7 1173.5,814.1 1181.5,822.4 1189.5,829.4 1197.5,836.3 1205.5,841.8 1213.5,845.2 1221.5,847.1 1229.5,847.1 1237.5,846.1 1245.5,844.8 1253.5,841 1261.5,837 1269.5,833 1277.5,830 1285.5,826.5 1293.5,824" fill="none" stroke="#ff0000" stroke-width="3" stroke-linejoin="round" stroke-linecap="butt"/>
<rect x="2" y="4" width="2" height="863" fill="#ffffff"/>
<rect x="4" y="4" width="1625" height="1" fill="#000"/>
<rect x="4" y="4" width="1" height="696" fill="#000"/>
<rect x="1628" y="4" width="1" height="696" fill="#000"/>
<rect x="1628" y="701" width="1" height="166" fill="#000"/>
<rect x="4" y="699" width="1625" height="1" fill="#000"/>
<rect x="4" y="700" width="1624" height="1" fill="#fff"/>
<rect x="4" y="701" width="1625" height="1" fill="#000"/>
<rect x="4" y="701" width="1" height="166" fill="#000"/>
<rect x="4" y="866" width="1625" height="1" fill="#000"/>
<rect x="37" y="700" width="1" height="1" fill="#778899"/>
<rect x="69" y="700" width="1" height="1" fill="#778899"/>
<rect x="101" y="700" width="1" height="1" fill="#778899"/>
<rect x="133" y="700" width="1" height="1" fill="#778899"/>
<rect x="165" y="700" width="1" height="1" fill="#778899"/>
<rect x="197" y="700" width="1" height="1" fill="#778899"/>
<rect x="229" y="700" width="1" height="1" fill="#778899"/>
<rect x="261" y="700" width="1" height="1" fill="#778899"/>
<rect x="293" y="700" width="1" height="1" fill="#778899"/>
<rect x="325" y="700" width="1" height="1" fill="#778899"/>
<rect x="357" y="700" width="1" height="1" fill="#778899"/>
<rect x="389" y="700" width="1" height="1" fill="#778899"/>
<rect x="421" y="700" width="1" height="1" fill="#778899"/>
<rect x="453" y="700" width="1" height="1" fill="#778899"/>
<rect x="485" y="700" width="1" height="1" fill="#778899"/>
<rect x="517" y="700" width="1" height="1" fill="#778899"/>
<rect x="549" y="700" width="1" height="1" fill="#778899"/>
<rect x="581" y="700" width="1" height="1" fill="#778899"/>
<rect x="613" y="700" width="1" height="1" fill="#778899"/>
<rect x="645" y="700" width="1" height="1" fill="#778899"/>
<rect x="677" y="700" width="1" height="1" fill="#778899"/>
<rect x="709" y="700" width="1" height="1" fill="#778899"/>
<rect x="741" y="700" width="1" height="1" fill="#778899"/>
<rect x="773" y="700" width="1" height="1" fill="#778899"/>
<rect x="805" y="700" width="1" height="1" fill="#778899"/>
<rect x="837" y="700" width="1" height="1" fill="#778899"/>
<rect x="869" y="700" width="1" height="1" fill="#778899"/>
<rect x="901" y="700" width="1" height="1" fill="#778899"/>
<rect x="933" y="700" width="1" height="1" fill="#778899"/>
<rect x="965" y="700" width="1" height="1" fill="#778899"/>
<rect x="997" y="700" width="1" height="1" fill="#778899"/>
<rect x="1029" y="700" width="1" height="1" fill="#778899"/>
<rect x="1061" y="700" width="1" height="1" fill="#778899"/>
<rect x="1093" y="700" width="1" height="1" fill="#778899"/>
<rect x="1125" y="700" width="1" height="1" fill="#778899"/>
<rect x="1157" y="700" width="1" height="1" fill="#778899"/>
<rect x="1189" y="700" width="1" height="1" fill="#778899"/>
<rect x="1221" y="700" width="1" height="1" fill="#778899"/>
<rect x="1253" y="700" width="1" height="1" fill="#778899"/>
<rect x="1285" y="700" width="1" height="1" fill="#778899"/>
<rect x="1317" y="700" width="1" height="1" fill="#778899"/>
<rect x="1349" y="700" width="1" height="1" fill="#778899"/>
<rect x="1381" y="700" width="1" height="1" fill="#778899"/>
<rect x="1413" y="700" width="1" height="1" fill="#778899"/>
<rect x="1445" y="700" width="1" height="1" fill="#778899"/>
<rect x="1477" y="700" width="1" height="1" fill="#778899"/>
<rect x="1509" y="700" width="1" height="1" fill="#778899"/>
<rect x="1541" y="700" width="1" height="1" fill="#778899"/>
<rect x="1573" y="700" width="1" height="1" fill="#778899"/>
<rect x="1605" y="700" width="1" height="1" fill="#778899"/>
<rect x="5" y="515" width="1623" height="3" fill="#000000"/>
<rect x="5" y="657" width="1623" height="3" fill="#0000ff"/>
<path d="M1299 520 L1329 616" stroke="#ff0000" stroke-width="6" stroke-linecap="round" fill="none" shape-rendering="geometricPrecision"/>
<polygon points="1316,615.5 1339.5,607 1338.5,645" fill="#ff0000" shape-rendering="geometricPrecision"/>
<polygon points="1297,5 1306,5 1301.5,10" fill="#778899"/>
<rect x="1629" y="36" width="2" height="1" fill="#000"/>
<rect x="1629" y="69" width="2" height="1" fill="#000"/>
<rect x="1629" y="102" width="2" height="1" fill="#000"/>
<rect x="1629" y="135" width="2" height="1" fill="#000"/>
<rect x="1629" y="168" width="2" height="1" fill="#000"/>
<rect x="1629" y="201" width="2" height="1" fill="#000"/>
<rect x="1629" y="234" width="2" height="1" fill="#000"/>
<rect x="1629" y="267" width="2" height="1" fill="#000"/>
<rect x="1629" y="300" width="2" height="1" fill="#000"/>
<rect x="1629" y="333" width="2" height="1" fill="#000"/>
<rect x="1629" y="366" width="2" height="1" fill="#000"/>
<rect x="1629" y="399" width="2" height="1" fill="#000"/>
<rect x="1629" y="432" width="2" height="1" fill="#000"/>
<rect x="1629" y="465" width="2" height="1" fill="#000"/>
<rect x="1629" y="498" width="2" height="1" fill="#000"/>
<rect x="1629" y="531" width="2" height="1" fill="#000"/>
<rect x="1629" y="564" width="2" height="1" fill="#000"/>
<rect x="1629" y="597" width="2" height="1" fill="#000"/>
<rect x="1629" y="630" width="2" height="1" fill="#000"/>
<rect x="1629" y="663" width="2" height="1" fill="#000"/>
<rect x="1629" y="696" width="2" height="1" fill="#000"/>
<text transform="translate(3.27 879) scale(0.9292 1.0)" font-family="Liberation Sans, sans-serif" font-size="10" fill="#000">5 Jan 2023</text>
<text transform="translate(67.86 879) scale(0.9418 1.0)" font-family="Liberation Sans, sans-serif" font-size="10" fill="#000">11 Jan 01:30</text>
<text transform="translate(131.67 879) scale(0.9339 1.0)" font-family="Liberation Sans, sans-serif" font-size="10" fill="#000">17 Jan 01:30</text>
<text transform="translate(195.06 879) scale(0.9446 1.0)" font-family="Liberation Sans, sans-serif" font-size="10" fill="#000">30 Jan 01:30</text>
<text transform="translate(259.04 879) scale(0.9558 1.0)" font-family="Liberation Sans, sans-serif" font-size="10" fill="#000">3 Feb 01:30</text>
<text transform="translate(323.04 879) scale(0.9558 1.0)" font-family="Liberation Sans, sans-serif" font-size="10" fill="#000">9 Feb 01:30</text>
<text transform="translate(387.45 879) scale(0.9544 1.0)" font-family="Liberation Sans, sans-serif" font-size="10" fill="#000">15 Feb 01:30</text>
<text transform="translate(451.44 879) scale(0.9561 1.0)" font-family="Liberation Sans, sans-serif" font-size="10" fill="#000">21 Feb 01:30</text>
<text transform="translate(515.25 879) scale(0.9526 1.0)" font-family="Liberation Sans, sans-serif" font-size="10" fill="#000">27 Feb 01:30</text>
<text transform="translate(579.25 879) scale(0.9538 1.0)" font-family="Liberation Sans, sans-serif" font-size="10" fill="#000">3 Mar 01:30</text>
<text transform="translate(643.04 879) scale(0.9596 1.0)" font-family="Liberation Sans, sans-serif" font-size="10" fill="#000">9 Mar 01:30</text>
<text transform="translate(707.65 879) scale(0.9526 1.0)" font-family="Liberation Sans, sans-serif" font-size="10" fill="#000">15 Mar 01:30</text>
<text transform="translate(771.65 879) scale(0.9544 1.0)" font-family="Liberation Sans, sans-serif" font-size="10" fill="#000">21 Mar 01:30</text>
<text transform="translate(835.64 879) scale(0.9561 1.0)" font-family="Liberation Sans, sans-serif" font-size="10" fill="#000">27 Mar 01:30</text>
<text transform="translate(899.34 879) scale(0.9614 1.0)" font-family="Liberation Sans, sans-serif" font-size="10" fill="#000">31 Mar 01:30</text>
<text transform="translate(963.61 879) scale(0.9878 1.0)" font-family="Liberation Sans, sans-serif" font-size="10" fill="#000">7 Apr 01:30</text>
<text transform="translate(1027.63 879) scale(0.9691 1.0)" font-family="Liberation Sans, sans-serif" font-size="10" fill="#000">13 Apr 01:30</text>
<text transform="translate(1091.43 879) scale(0.9655 1.0)" font-family="Liberation Sans, sans-serif" font-size="10" fill="#000">19 Apr 01:30</text>
<text transform="translate(1155.63 879) scale(0.9673 1.0)" font-family="Liberation Sans, sans-serif" font-size="10" fill="#000">25 Apr 01:30</text>
<text transform="translate(1219.01 879) scale(0.9943 1.0)" font-family="Liberation Sans, sans-serif" font-size="10" fill="#000">4 May 01:30</text>
<text transform="translate(1283.64 879) scale(0.9644 1.0)" font-family="Liberation Sans, sans-serif" font-size="10" fill="#000">10 May 01:30</text>
<text transform="translate(1633.03 40) scale(0.9655 1.0)" font-family="Liberation Sans, sans-serif" font-size="10" fill="#000">4281.5</text>
<text transform="translate(1633.03 73) scale(0.9655 1.0)" font-family="Liberation Sans, sans-serif" font-size="10" fill="#000">4263.0</text>
<text transform="translate(1633.03 106) scale(0.9655 1.0)" font-family="Liberation Sans, sans-serif" font-size="10" fill="#000">4244.5</text>
<text transform="translate(1633.03 139) scale(0.9655 1.0)" font-family="Liberation Sans, sans-serif" font-size="10" fill="#000">4225.5</text>
<text transform="translate(1633.03 172) scale(0.9655 1.0)" font-family="Liberation Sans, sans-serif" font-size="10" fill="#000">4207.0</text>
<text transform="translate(1633.03 205) scale(0.9655 1.0)" font-family="Liberation Sans, sans-serif" font-size="10" fill="#000">4188.5</text>
<text transform="translate(1633.03 238) scale(0.9655 1.0)" font-family="Liberation Sans, sans-serif" font-size="10" fill="#000">4169.5</text>
<text transform="translate(1633.03 271) scale(0.9655 1.0)" font-family="Liberation Sans, sans-serif" font-size="10" fill="#000">4151.0</text>
<text transform="translate(1633.03 304) scale(0.9655 1.0)" font-family="Liberation Sans, sans-serif" font-size="10" fill="#000">4132.5</text>
<text transform="translate(1633.00 337) scale(1.0000 1.0)" font-family="Liberation Sans, sans-serif" font-size="10" fill="#000">4113.5</text>
<text transform="translate(1633.03 370) scale(0.9655 1.0)" font-family="Liberation Sans, sans-serif" font-size="10" fill="#000">4095.0</text>
<text transform="translate(1633.03 403) scale(0.9655 1.0)" font-family="Liberation Sans, sans-serif" font-size="10" fill="#000">4076.5</text>
<text transform="translate(1633.03 436) scale(0.9655 1.0)" font-family="Liberation Sans, sans-serif" font-size="10" fill="#000">4057.5</text>
<text transform="translate(1633.03 469) scale(0.9655 1.0)" font-family="Liberation Sans, sans-serif" font-size="10" fill="#000">4039.0</text>
<text transform="translate(1633.03 502) scale(0.9655 1.0)" font-family="Liberation Sans, sans-serif" font-size="10" fill="#000">4020.5</text>
<text transform="translate(1633.03 535) scale(0.9655 1.0)" font-family="Liberation Sans, sans-serif" font-size="10" fill="#000">4001.5</text>
<text transform="translate(1633.03 568) scale(0.9655 1.0)" font-family="Liberation Sans, sans-serif" font-size="10" fill="#000">3983.0</text>
<text transform="translate(1633.03 601) scale(0.9655 1.0)" font-family="Liberation Sans, sans-serif" font-size="10" fill="#000">3964.5</text>
<text transform="translate(1633.03 634) scale(0.9655 1.0)" font-family="Liberation Sans, sans-serif" font-size="10" fill="#000">3945.5</text>
<text transform="translate(1633.03 667) scale(0.9655 1.0)" font-family="Liberation Sans, sans-serif" font-size="10" fill="#000">3927.0</text>
<text transform="translate(1633.03 700) scale(0.9655 1.0)" font-family="Liberation Sans, sans-serif" font-size="10" fill="#000">3908.5</text>
<text transform="translate(19.51 16) scale(0.9877 1.0)" font-family="Liberation Sans, sans-serif" font-size="10" fill="#000">CHINA300-,H4</text>
<text transform="translate(89.86 16) scale(0.9414 1.0)" font-family="Liberation Sans, sans-serif" font-size="10" fill="#000">3996.1</text>
<text transform="translate(120.84 16) scale(0.9552 1.0)" font-family="Liberation Sans, sans-serif" font-size="10" fill="#000">4017.3</text>
<text transform="translate(152.04 16) scale(0.9552 1.0)" font-family="Liberation Sans, sans-serif" font-size="10" fill="#000">3988.5</text>
<text transform="translate(183.37 16) scale(0.9310 1.0)" font-family="Liberation Sans, sans-serif" font-size="10" fill="#000">3996.1</text>
<text transform="translate(8.25 714) scale(0.9485 1.0)" font-family="Liberation Sans, sans-serif" font-size="10" fill="#000">MACD(12,26,9)</text>
<text transform="translate(77.36 714) scale(0.9381 1.0)" font-family="Liberation Sans, sans-serif" font-size="10" fill="#000">-9.90</text>
<text transform="translate(101.63 714) scale(0.9654 1.0)" font-family="Liberation Sans, sans-serif" font-size="10" fill="#000">-11.75</text>
<text transform="translate(1631.22 712) scale(0.9783 1.0)" font-family="Liberation Sans, sans-serif" font-size="10" fill="#000">69.44</text>
<text transform="translate(1630.22 811) scale(1.0412 1.0)" font-family="Liberation Sans, sans-serif" font-size="10" fill="#000">0.00</text>
<text transform="translate(1631.00 863) scale(0.9962 1.0)" font-family="Liberation Sans, sans-serif" font-size="10" fill="#000">-39.33</text>
<rect x="1630" y="510" width="36" height="11" fill="#000"/>
<rect x="1630" y="536" width="36" height="11" fill="#000"/>
<rect x="1630" y="652" width="36" height="11" fill="#0000ff"/>
<text transform="translate(1633.03 520) scale(0.9655 1.0)" font-family="Liberation Sans, sans-serif" font-size="10" fill="#fff">4010.0</text>
<text transform="translate(1633.03 546) scale(0.9655 1.0)" font-family="Liberation Sans, sans-serif" font-size="10" fill="#fff">3996.1</text>
<text transform="translate(1633.03 662) scale(0.9655 1.0)" font-family="Liberation Sans, sans-serif" font-size="10" fill="#fff">3930.0</text>
<rect x="1629" y="703" width="2" height="1" fill="#000"/>
<rect x="1629" y="807" width="2" height="1" fill="#000"/>
<rect x="1629" y="865" width="2" height="1" fill="#000"/>
<rect x="5" y="867" width="1" height="3" fill="#000"/>
<rect x="69" y="867" width="1" height="3" fill="#000"/>
<rect x="133" y="867" width="1" height="3" fill="#000"/>
<rect x="197" y="867" width="1" height="3" fill="#000"/>
<rect x="261" y="867" width="1" height="3" fill="#000"/>
<rect x="325" y="867" width="1" height="3" fill="#000"/>
<rect x="389" y="867" width="1" height="3" fill="#000"/>
<rect x="453" y="867" width="1" height="3" fill="#000"/>
<rect x="517" y="867" width="1" height="3" fill="#000"/>
<rect x="581" y="867" width="1" height="3" fill="#000"/>
<rect x="645" y="867" width="1" height="3" fill="#000"/>
<rect x="709" y="867" width="1" height="3" fill="#000"/>
<rect x="773" y="867" width="1" height="3" fill="#000"/>
<rect x="837" y="867" width="1" height="3" fill="#000"/>
<rect x="901" y="867" width="1" height="3" fill="#000"/>
<rect x="965" y="867" width="1" height="3" fill="#000"/>
<rect x="1029" y="867" width="1" height="3" fill="#000"/>
<rect x="1093" y="867" width="1" height="3" fill="#000"/>
<rect x="1157" y="867" width="1" height="3" fill="#000"/>
<rect x="1221" y="867" width="1" height="3" fill="#000"/>
<rect x="1285" y="867" width="1" height="3" fill="#000"/>
<polygon points="8,11 15,11 11.5,15" fill="#000"/>
</svg></body></html>
